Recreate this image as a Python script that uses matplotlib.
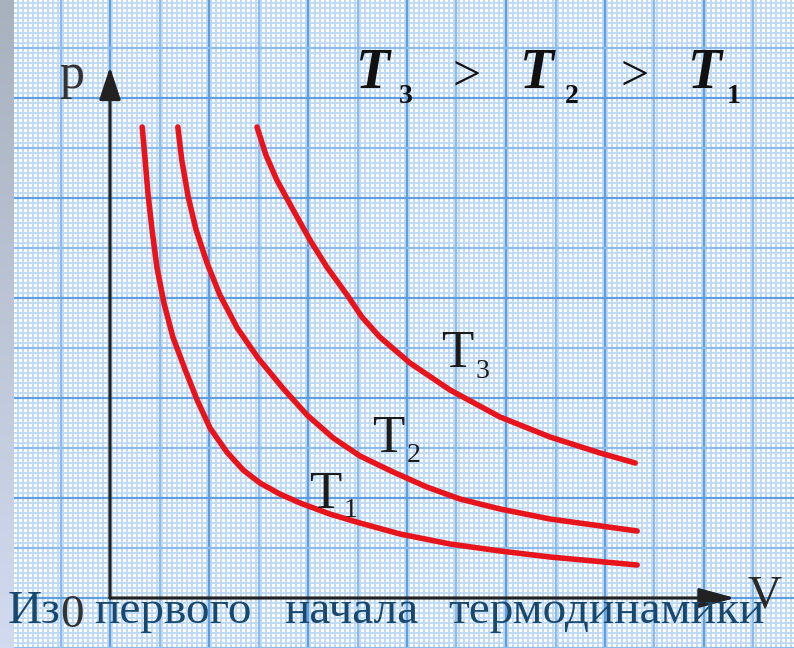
import numpy as np
import matplotlib
matplotlib.use('Agg')
import matplotlib.pyplot as plt

# isotherms (V, p in grid cells, origin at the axes corner)
v_t1 = [0.65, 0.71, 0.77, 0.85, 0.95, 1.09, 1.27, 1.52, 1.76, 2.02, 2.36, 2.69, 3.03, 3.43,
        3.84, 4.44, 5.05, 5.86, 6.87, 7.88, 8.89, 10.65]
p_t1 = [9.42, 8.76, 8.06, 7.36, 6.60, 5.90, 5.22, 4.56, 3.96, 3.40, 2.92, 2.56, 2.30, 2.08,
        1.90, 1.68, 1.50, 1.28, 1.08, 0.94, 0.82, 0.66]

v_t2 = [1.37, 1.45, 1.58, 1.74, 1.96, 2.22, 2.57, 2.99, 3.49, 3.98, 4.51, 5.05, 5.72, 6.40,
        7.07, 7.88, 8.89, 10.65]
p_t2 = [9.42, 8.76, 8.02, 7.36, 6.70, 6.06, 5.40, 4.80, 4.20, 3.66, 3.20, 2.84, 2.52, 2.22,
        1.98, 1.78, 1.58, 1.34]

v_t3 = [2.97, 3.15, 3.37, 3.70, 4.04, 4.38, 4.79, 5.09, 5.45, 6.06, 6.87, 7.88, 8.89, 9.90, 10.61]
p_t3 = [9.42, 8.86, 8.36, 7.76, 7.16, 6.62, 6.06, 5.62, 5.22, 4.70, 4.16, 3.62, 3.22, 2.90, 2.70]

curve_labels = ['1', '2', '3']
bottom_words = ['Из', 'первого', 'начала', 'термодинамики']

W, H = 794, 648
X0, Y0 = 110, 598      # pixel position of the origin
UX, UY = 49.5, 50.0    # pixels per grid cell

fig = plt.figure(figsize=(W / 100, H / 100), dpi=100)
ax = fig.add_axes([0, 0, 1, 1])
ax.set_xlim(-X0 / UX, (W - X0) / UX)
ax.set_ylim(-(H - Y0) / UY, Y0 / UY)
ax.axis('off')
ax.add_patch(plt.Rectangle((0, 0), 1, 1, transform=ax.transAxes, color='white', zorder=0))

# graph paper
fine_x = np.arange(-2.25, 14, 0.1)
fine_y = np.arange(-1.2, 12.2, 0.1)
ax.vlines(fine_x, -2, 13, color='#c0daf5', lw=1.4, zorder=1)
ax.hlines(fine_y, -3, 15, color='#c0daf5', lw=1.4, zorder=1)
for k in range(-2, 14):
    c = '#5f9fe0' if k % 2 == 0 else '#8dbcec'
    ax.axvline(k, color=c, lw=1.6, zorder=2)
for k in range(-1, 12):
    c = '#5f9fe0' if k % 2 == 0 else '#8dbcec'
    ax.axhline(k, color=c, lw=1.6, zorder=2)

# axes with arrows
ax.annotate('', xy=(0, 10.62), xytext=(0, 0),
            arrowprops=dict(arrowstyle='-|>,head_length=1.0,head_width=0.33',
                            mutation_scale=20, lw=2.2, color='#222222', shrinkA=0, shrinkB=0),
            zorder=4)
ax.annotate('', xy=(12.63, 0), xytext=(0, 0),
            arrowprops=dict(arrowstyle='-|>,head_length=1.1,head_width=0.3',
                            mutation_scale=20, lw=2.2, color='#222222', shrinkA=0, shrinkB=0),
            zorder=4)

# isotherms
red = '#e8141c'
for v, p in [(v_t1, p_t1), (v_t2, p_t2), (v_t3, p_t3)]:
    ax.plot(v, p, color=red, lw=4, solid_capstyle='round', solid_joinstyle='round', zorder=5)

serif = 'Liberation Serif'

def ftext(x, y, s, **kw):
    # place text by pixel position of the reference picture
    kw.setdefault('family', serif)
    return fig.text(x / W, 1 - y / H, s, zorder=6, **kw)

# curve labels
for (tx, ty, sx, sy), lab in zip([(325, 508, 351, 517), (388, 452, 414, 462), (457, 367, 483, 378)],
                                 curve_labels):
    ftext(tx, ty, 'T', fontsize=38, color='#1c1c1c', ha='center', va='baseline')
    ftext(sx, sy, lab, fontsize=20, color='#1c1c1c', ha='center', va='baseline')

# title T3 > T2 > T1
for tx, sx, lab in [(373, 406, '3'), (537, 572, '2'), (705, 734, '1')]:
    ftext(tx, 88, 'T', fontsize=40, fontweight='bold', style='italic', color='#111111',
          ha='center', va='baseline')
    ftext(sx, 103, lab, fontsize=20, fontweight='bold', color='#111111', ha='center', va='baseline')
for gx in [467, 635]:
    ftext(gx, 90, '>', fontsize=36, color='#111111', ha='center', va='baseline')

# axis letters
ftext(72, 88, 'p', fontsize=36, color='#333333', ha='center', va='baseline')
ftext(764, 607, 'V', fontsize=34, color='#2a2a2a', ha='center', va='baseline')
ftext(72, 627, '0', fontsize=34, color='#333333', ha='center', va='baseline')

# text under the chart
for x, w in zip([8, 94, 284, 448], bottom_words):
    ftext(x, 623, w, fontsize=34, color='#18486e', ha='left', va='baseline')

# grey strip on the left
strip = fig.add_axes([0, 0, 14 / W, 1])
grad = np.linspace(0, 1, 100).reshape(-1, 1)
strip.imshow(grad, aspect='auto', cmap=matplotlib.colors.LinearSegmentedColormap.from_list(
    'g', ['#a8b1be', '#d2daf0']), extent=[0, 1, 0, 1])
strip.axis('off')

fig.savefig('out.png', dpi=100)
